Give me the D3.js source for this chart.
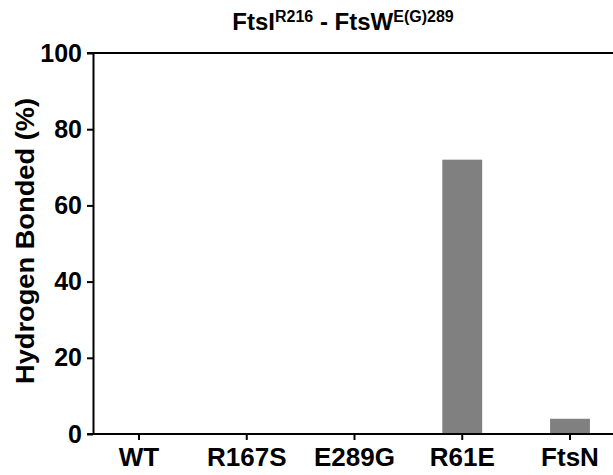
<!DOCTYPE html>
<head>
  <meta charset="utf-8">
  <script src="https://d3js.org/d3.v7.min.js"></script>
  <style>
    body { margin:0; background:#fff; }
    svg { display:block; font-family: "Liberation Sans", Arial, sans-serif; }
  </style>
</head>
<body>
<script type='text/javascript'>
  // chart data
  var categories = ["WT", "R167S", "E289G", "R61E", "FtsN"];
  var bonded = [0, 0, 0, 72, 4];
  var yTicks = [0, 20, 40, 60, 80, 100];

  var width = 613, height = 475;
  var axisLeftX = 93, y0 = 434, y100 = 53;

  var svg = d3.select('body').append('svg')
    .attr('width', width)
    .attr('height', height);

  // band scale, centres at 139 ... 570
  var step = (570 - 139) / 4;
  var x = d3.scaleBand()
    .domain(categories)
    .range([139 - step / 2, 570 + step / 2])
    .paddingInner(0.63)
    .paddingOuter(0.315);

  var y = d3.scaleLinear()
    .domain([0, 100])
    .range([y0, y100]);

  // bars
  svg.selectAll('rect.bar')
    .data(bonded).enter().append('rect')
    .attr('class', 'bar')
    .attr('x', (d, i) => x(categories[i]))
    .attr('y', d => y(d))
    .attr('width', x.bandwidth())
    .attr('height', d => y0 - y(d))
    .attr('fill', '#808080');

  // y axis
  var yAxis = svg.append('g')
    .attr('transform', 'translate(' + axisLeftX + ',0)')
    .call(d3.axisLeft(y).tickValues(yTicks).tickSize(6).tickSizeOuter(0).tickPadding(5));
  yAxis.select('.domain').attr('stroke-width', 2);
  yAxis.selectAll('.tick line').attr('stroke-width', 2);
  yAxis.selectAll('text')
    .attr('font-size', 25)
    .attr('font-weight', 'bold')
    .attr('font-family', '"Liberation Sans", Arial, sans-serif')
    .attr('fill', '#000');

  // x axis
  var xAxis = svg.append('g')
    .attr('transform', 'translate(0,' + y0 + ')')
    .call(d3.axisBottom(x).tickSize(6).tickSizeOuter(0).tickPadding(8));
  xAxis.select('.domain').remove();
  xAxis.selectAll('.tick line').attr('stroke-width', 2);
  xAxis.selectAll('text')
    .attr('font-size', 26)
    .attr('font-weight', 'bold')
    .attr('font-family', '"Liberation Sans", Arial, sans-serif')
    .attr('fill', '#000');

  // baseline and top line
  svg.append('line')
    .attr('x1', axisLeftX - 6).attr('x2', width)
    .attr('y1', y0).attr('y2', y0)
    .attr('stroke', '#000').attr('stroke-width', 2);
  svg.append('line')
    .attr('x1', axisLeftX - 6).attr('x2', width)
    .attr('y1', y(100)).attr('y2', y(100))
    .attr('stroke', '#000').attr('stroke-width', 2);

  // y axis title (slightly stretched like the original)
  svg.append('text')
    .attr('transform', 'translate(34,241) rotate(-90)')
    .attr('text-anchor', 'middle')
    .attr('font-size', 26)
    .attr('font-weight', 'bold')
    .attr('textLength', 286)
    .attr('lengthAdjust', 'spacingAndGlyphs')
    .text('Hydrogen Bonded (%)');

  // title with superscripts
  var title = svg.append('text')
    .attr('x', 343)
    .attr('y', 30)
    .attr('text-anchor', 'middle')
    .attr('font-size', 24)
    .attr('font-weight', 'bold');
  title.append('tspan').text('FtsI');
  title.append('tspan').attr('font-size', 16).attr('dy', -8).text('R216');
  title.append('tspan').attr('dy', 8).text(' - FtsW');
  title.append('tspan').attr('font-size', 16).attr('dy', -8).text('E(G)289');
</script>
</body>
